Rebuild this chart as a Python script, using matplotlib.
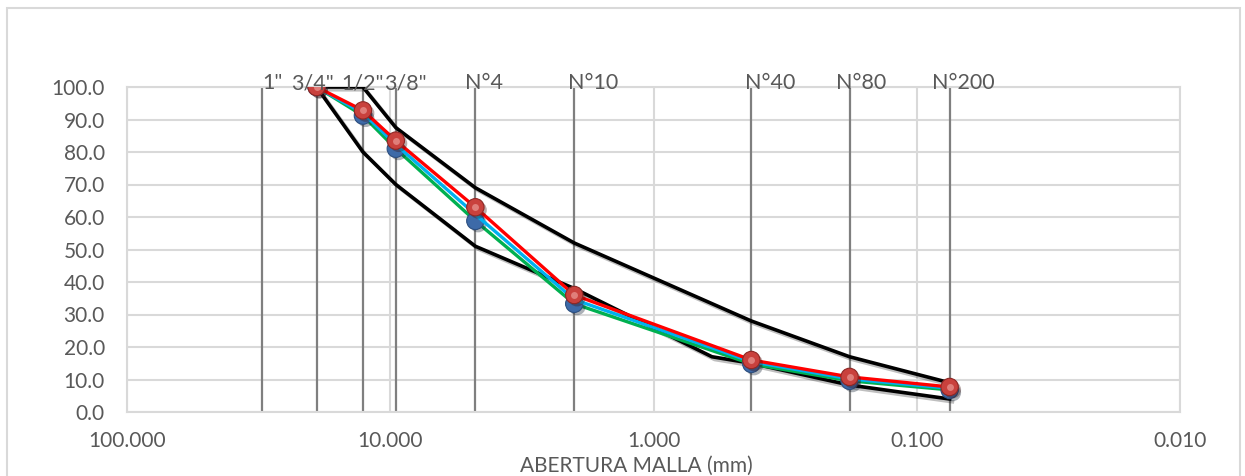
import matplotlib
matplotlib.use("Agg")
import matplotlib.pyplot as plt
import matplotlib.patheffects as pe
from matplotlib.ticker import FixedLocator, FormatStrFormatter, NullLocator
from matplotlib.patches import Rectangle

plt.rcParams['font.family'] = ['Lato', 'DejaVu Sans']

# sieve openings (mm) and their names
sieve_mm = [30.7, 19.05, 12.7, 9.525, 4.75, 2.0, 0.425, 0.18, 0.075]
sieve_names = ['1"', '3/4"', '1/2"', '3/8"', 'N°4', 'N°10', 'N°40', 'N°80', 'N°200']

# grading curves (% passing)
curve_mm = [19.05, 12.7, 9.525, 4.75, 2.0, 0.425, 0.18, 0.075]
pass_red = [100, 92.8, 83.5, 63.0, 36.0, 16.0, 10.8, 7.7]
pass_cyan = [100, 92.0, 82.3, 60.8, 34.6, 15.5, 10.2, 7.3]
pass_green = [100, 91.2, 81.0, 58.8, 33.3, 14.8, 9.6, 6.8]

# specification limits
upper_mm = [19.05, 12.7, 9.525, 4.75, 2.0, 0.425, 0.18, 0.075]
upper_pass = [100, 100, 87.5, 69, 52, 28, 17, 9]
lower_mm = [19.05, 12.7, 9.525, 4.75, 2.0, 0.6, 0.425, 0.18, 0.075]
lower_pass = [100, 80, 70, 51, 38, 17, 15, 8.3, 4]

xticks = [100, 10, 1, 0.1, 0.01]
yticks = [0, 10, 20, 30, 40, 50, 60, 70, 80, 90, 100]

# label nudges in pixels (left edge relative to the line)
label_dx = [0, -25, -22, -12, -10, -6, -6, -14, -18]

W, H = 1245, 476
fig = plt.figure(figsize=(W / 100, H / 100), dpi=100)
fig.patches.append(Rectangle((7 / W, -0.02), (1240 - 7) / W, (H - 8) / H + 0.02,
                             transform=fig.transFigure, fill=False,
                             edgecolor='#d9d9d9', lw=1.5))
ax = fig.add_axes([127 / W, (H - 412) / H, (1180 - 127) / W, (412 - 87) / H])

ax.set_xscale('log')
ax.set_xlim(100, 0.01)
ax.set_ylim(0, 100)
ax.xaxis.set_major_locator(FixedLocator(xticks))
ax.xaxis.set_minor_locator(NullLocator())
ax.xaxis.set_major_formatter(FormatStrFormatter('%.3f'))
ax.yaxis.set_major_locator(FixedLocator(yticks))
ax.yaxis.set_major_formatter(FormatStrFormatter('%.1f'))
ax.tick_params(axis='both', length=0, labelsize=15, labelcolor='#595959')
ax.tick_params(axis='x', pad=14)
ax.tick_params(axis='y', pad=16)
ax.grid(True, color='#d9d9d9', lw=1.5)
ax.set_axisbelow(True)
for sp in ax.spines.values():
    sp.set_color('#d9d9d9')
    sp.set_linewidth(1.5)

ax.set_xlabel('ABERTURA MALLA (mm)', fontsize=15, color='#595959')
ax.xaxis.set_label_coords(0.484, -0.135)

# sieve lines + names
ax.vlines(sieve_mm, 0, 100, color='#7f7f7f', lw=1.6, zorder=2)
for x, name, dx in zip(sieve_mm, sieve_names, label_dx):
    ax.annotate(name, (x, 100), xytext=(dx, 4), textcoords='offset pixels',
                ha='left', va='center', fontsize=15.5, color='#595959', zorder=6)

shadow = [pe.SimpleLineShadow(offset=(2, -2), alpha=0.25, shadow_color='k'), pe.Normal()]

ax.plot(upper_mm, upper_pass, color='black', lw=2.6, zorder=3, path_effects=shadow)
ax.plot(lower_mm, lower_pass, color='black', lw=2.6, zorder=3, path_effects=shadow)

ball_fx = [pe.SimplePatchShadow(offset=(2, -2), alpha=0.35), pe.Normal()]

ax.plot(curve_mm, pass_green, color='#00b050', lw=2.4, zorder=4)
ax.plot(curve_mm, pass_green, ls='none', marker='o', ms=12.5, mfc='#3d6aa8',
        mec='#2c4f80', mew=0.8, zorder=4.2, path_effects=ball_fx)
ax.plot(curve_mm, pass_cyan, color='#00b0f0', lw=2.4, zorder=4.4)
ax.plot(curve_mm, pass_red, color='#ff0000', lw=2.4, zorder=5)
ax.plot(curve_mm, pass_red, ls='none', marker='o', ms=12.5, mfc='#c9413d',
        mec='#8e2724', mew=0.8, zorder=5.5, path_effects=ball_fx)
ax.plot(curve_mm, pass_red, ls='none', marker='o', ms=5, mfc='#f0a8a4',
        mec='none', alpha=0.6, zorder=5.6)

fig.savefig('out.png', dpi=100)
